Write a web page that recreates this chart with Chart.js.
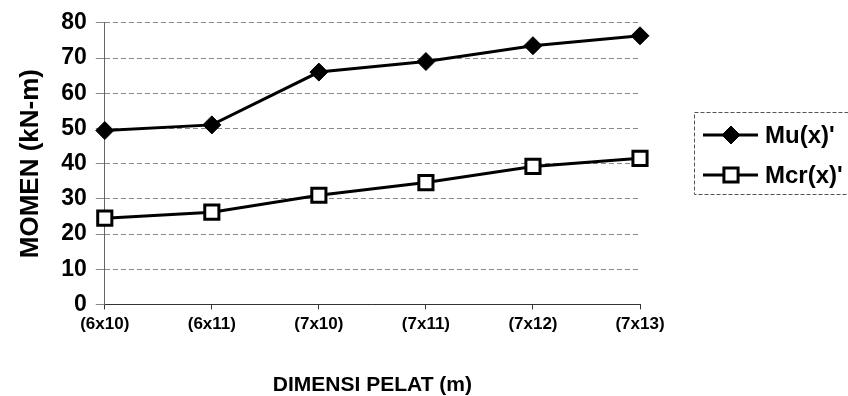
<!DOCTYPE html>
<html>
<head>
<meta charset="utf-8">
<script src="https://cdn.jsdelivr.net/npm/chart.js@4.4.1/dist/chart.umd.min.js"></script>
<style>
  html, body { margin: 0; padding: 0; background: #fff; }
  #wrap { width: 848px; height: 396px; position: relative; }
</style>
</head>
<body>
<div id="wrap"><canvas id="chart"></canvas></div>
<script>
'use strict';

// ── data ──
const categories = ['(6x10)', '(6x11)', '(7x10)', '(7x11)', '(7x12)', '(7x13)'];
const muValues   = [49.4, 51, 66, 69, 73.5, 76.3];
const mcrValues  = [24.5, 26.2, 31, 34.6, 39.2, 41.5];
const seriesNames = ["Mu(x)'", "Mcr(x)'"];
const yMin = 0, yMax = 80, yStep = 10;

const FONT = "'Liberation Sans', Arial, sans-serif";

// legend with a line through the marker, inside a dashed box (like the Excel original)
const boxLegend = {
    id: 'boxLegend',
    afterDraw(chart) {
        const ctx = chart.ctx, area = chart.chartArea;
        const x0 = area.right + 54, y0 = 112, w = 170, h = 82;
        ctx.save();
        ctx.strokeStyle = '#555';
        ctx.lineWidth = 1;
        ctx.setLineDash([4, 2]);
        ctx.strokeRect(x0 + 0.5, y0 + 0.5, w, h);
        ctx.setLineDash([]);
        chart.data.datasets.forEach((ds, i) => {
            const y = y0 + 23 + i * 40;
            ctx.strokeStyle = ds.borderColor;
            ctx.lineWidth = ds.borderWidth;
            ctx.beginPath();
            ctx.moveTo(x0 + 9, y);
            ctx.lineTo(x0 + 64, y);
            ctx.stroke();
            ctx.lineWidth = ds.pointBorderWidth;
            ctx.fillStyle = ds.pointBackgroundColor;
            ctx.strokeStyle = ds.pointBorderColor;
            Chart.helpers.drawPoint(ctx, {
                pointStyle: ds.pointStyle, radius: ds.pointRadius, borderWidth: ds.pointBorderWidth
            }, x0 + 37, y);
            ctx.fillStyle = '#000';
            ctx.font = 'bold 24px ' + FONT;
            ctx.textBaseline = 'middle';
            ctx.fillText(ds.label, x0 + 71, y + 1);
        });
        ctx.restore();
    }
};

new Chart(document.getElementById('chart'), {
    type: 'line',
    data: {
        labels: categories,
        datasets: [
            { label: seriesNames[0], data: muValues,
              borderColor: '#000', borderWidth: 3,
              pointStyle: 'rectRot', pointRadius: 9, pointBorderWidth: 1,
              pointBackgroundColor: '#000', pointBorderColor: '#000' },
            { label: seriesNames[1], data: mcrValues,
              borderColor: '#000', borderWidth: 3,
              pointStyle: 'rect', pointRadius: 10, pointBorderWidth: 3,
              pointBackgroundColor: '#fff', pointBorderColor: '#000' }
        ]
    },
    options: {
        responsive: true, maintainAspectRatio: false, animation: false,
        layout: { padding: { left: 15, right: 208, top: 20, bottom: 0 } },
        plugins: { legend: { display: false }, tooltip: { enabled: false } },
        scales: {
            x: {
                offset: false,
                grid: { drawOnChartArea: false, drawTicks: true, tickLength: 5, color: '#333' },
                border: { color: '#333', width: 1 },
                ticks: { color: '#000', padding: 5, maxRotation: 0,
                         font: { family: FONT, size: 17, weight: 'bold' } },
                title: { display: true, text: 'DIMENSI PELAT (m)', color: '#000',
                         padding: { top: 33, bottom: -2 },
                         font: { family: FONT, size: 21, weight: 'bold' } }
            },
            y: {
                min: yMin, max: yMax,
                grid: { color: '#888', tickLength: 9, lineWidth: 1 },
                border: { color: '#666', dash: [5, 3] },
                ticks: { stepSize: yStep, color: '#000', padding: 9,
                         font: { family: FONT, size: 23, weight: 'bold' } },
                title: { display: true, text: 'MOMEN (kN-m)', color: '#000',
                         padding: { top: 0, bottom: 6 },
                         font: { family: FONT, size: 26, weight: 'bold' } }
            }
        }
    },
    plugins: [boxLegend]
});
</script>
</body>
</html>
